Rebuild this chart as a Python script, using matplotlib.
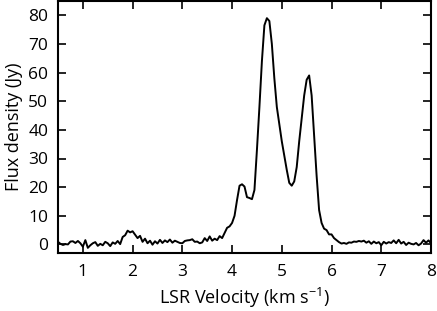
import numpy as np
import matplotlib
matplotlib.use("Agg")
import matplotlib.pyplot as plt

plt.rcParams['font.family'] = ['Open Sans', 'DejaVu Sans']

v_start = 0.5
channel_width = 0.05
flux = [
    0.9, 0.2, -0.2, 0.1, 0.0, 1.0, 1.1, 0.5, 1.2, 0.4,
    -0.8, 1.5, -1.2, -0.3, 0.4, 0.8, -0.5, 0.2, -0.3, 0.9,
    0.4, -0.6, 0.7, 0.2, 1.2, 0.1, 2.6, 3.2, 4.8, 4.2,
    4.6, 3.4, 2.2, 3.0, 0.9, 2.0, 0.4, 1.3, -0.1, 1.1,
    0.3, 1.6, 0.5, 1.4, 0.8, 1.7, 0.6, 1.3, 0.9, 0.5,
    0.4, 1.2, 1.4, 1.5, 1.8, 0.9, 1.0, 0.4, 0.7, 2.2,
    1.2, 2.8, 1.3, 2.0, 1.5, 2.9, 2.2, 4.0, 5.8, 6.3,
    7.5, 10.0, 15.5, 20.5, 21.0, 20.2, 16.5, 16.2, 15.8, 19.0,
    33.0, 48.0, 64.0, 76.5, 79.0, 78.0, 70.0, 58.0, 48.0, 42.0,
    36.0, 31.0, 26.0, 21.5, 20.5, 22.0, 27.0, 36.0, 44.0, 52.0,
    57.5, 59.0, 52.0, 38.0, 24.0, 12.0, 7.5, 5.5, 5.0, 3.5,
    3.5, 2.2, 1.5, 0.8, 0.3, 0.5, 0.2, 0.7, 0.6, 1.0,
    0.9, 1.2, 1.0, 1.3, 0.6, 1.1, 0.2, 1.0, 0.4, 0.8,
    -0.3, 0.9, 0.3, 0.8, 0.5, 1.4, 0.4, 1.6, 0.3, 0.9,
    -0.2, 0.6, 0.2, 0.0, 0.5, -0.3, 0.3, 1.5, 0.6, 1.4,
    0.4,
]
velocity = v_start + channel_width * np.arange(len(flux))

x_ticks = [1, 2, 3, 4, 5, 6, 7, 8]
y_ticks = [0, 10, 20, 30, 40, 50, 60, 70, 80]

fig = plt.figure(figsize=(4.37, 3.11), dpi=100)
ax = fig.add_axes([58/437, (311-253)/311, (431-58)/437, (253-1)/311])
ax.plot(velocity, flux, color='black', lw=1.4)
ax.set_xlim(0.5, 8.0)
ax.set_ylim(-3, 85)
ax.set_xticks(x_ticks)
ax.set_yticks(y_ticks)
ax.tick_params(direction='in', length=6, width=1.2, top=True, right=True,
               labelsize=12.5)
ax.tick_params(axis='x', pad=8)
ax.tick_params(axis='y', pad=7)
for s in ax.spines.values():
    s.set_linewidth(1.5)
ax.set_xlabel('LSR Velocity (km s$^{\\mathregular{-1}}$)', fontsize=13, labelpad=4)
ax.set_ylabel('Flux density (Jy)', fontsize=13, labelpad=4)
fig.savefig('out.png', dpi=100)
